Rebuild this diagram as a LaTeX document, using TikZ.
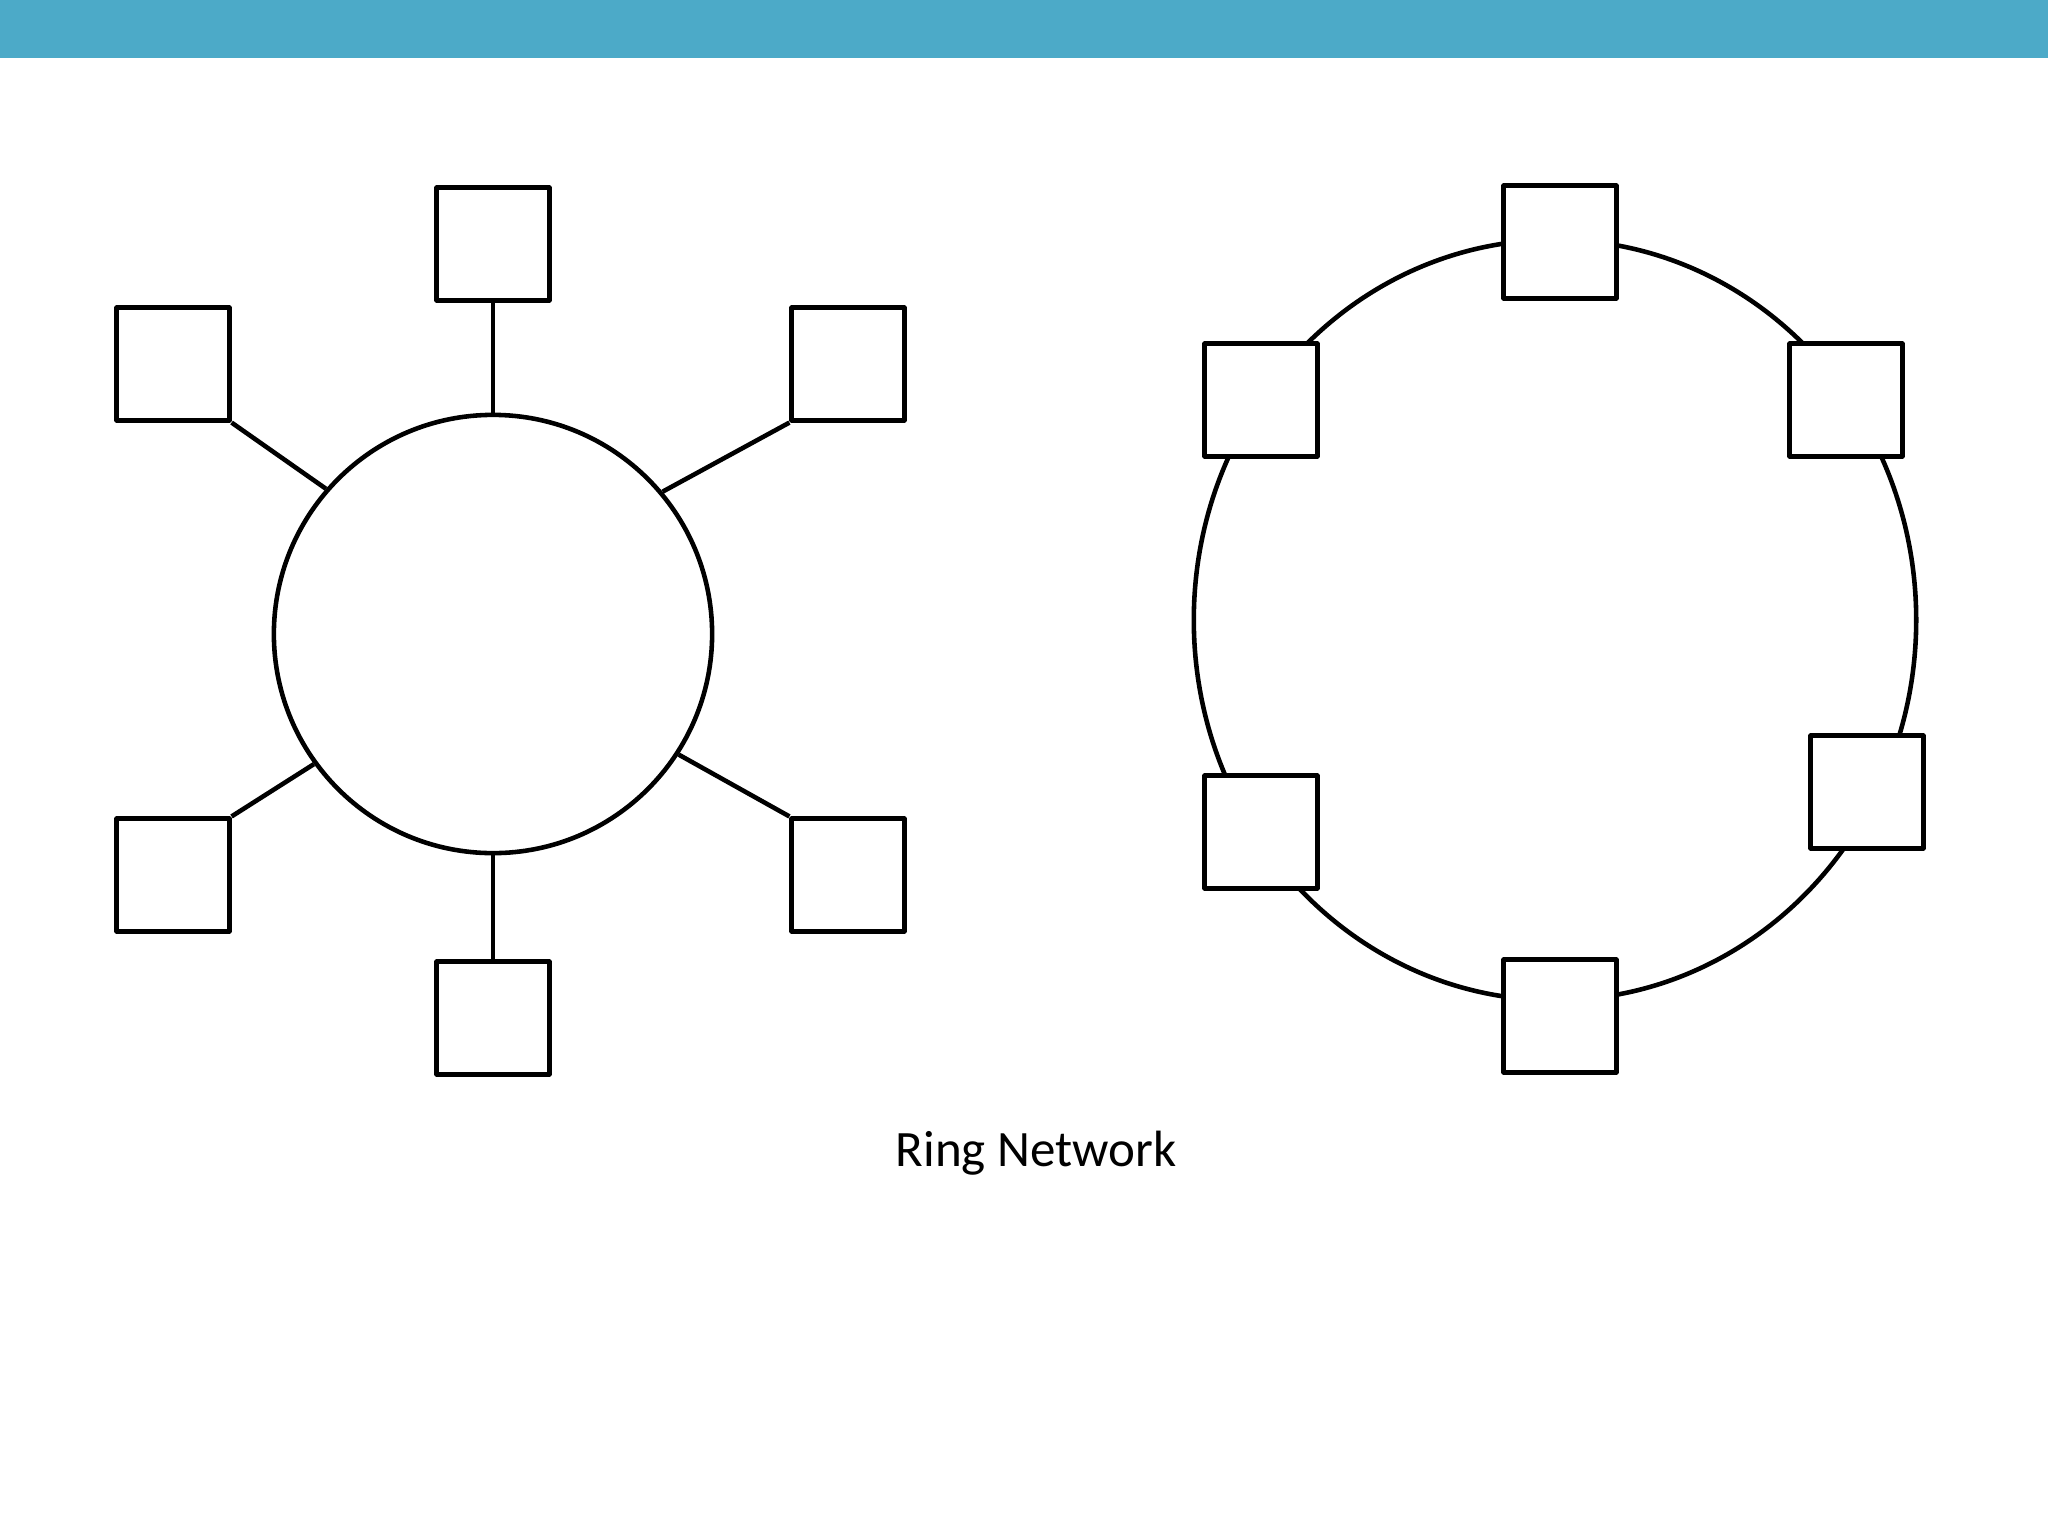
\documentclass[tikz,border=0pt]{standalone}
\usepackage{fontspec}
\setmainfont{Carlito}
\definecolor{barblue}{RGB}{76,170,200}
\tikzset{
  station/.style={draw, fill=white, line width=1.3pt, line join=round, minimum size=1.125cm, inner sep=0pt},
  link/.style={line width=1.3pt},
}

\begin{document}
\begin{tikzpicture}[x=0.01cm, y=-0.01cm]
  \useasboundingbox (0,0) rectangle (2048,1536);
  \fill[barblue] (0,0) rectangle (2048,58);

  \node[draw, circle, line width=1.3pt, minimum size=4.38cm, inner sep=0pt] (hub) at (493,634) {};

  \node[station] (s1) at (493,244) {};
  \node[station] (s2) at (173,364) {};
  \node[station] (s3) at (848,364) {};
  \node[station] (s4) at (173,875) {};
  \node[station] (s5) at (848,875) {};
  \node[station] (s6) at (493,1018) {};

  \draw[link] (s1.south) -- (hub.90);
  \draw[link] (s2.south east) -- (hub.139);
  \draw[link] (s3.south west) -- (hub.40);
  \draw[link] (s4.north east) -- (hub.216);
  \draw[link] (s5.north west) -- (hub.-33);
  \draw[link] (s6.north) -- (hub.270);

  \draw[link] (1555,620) ellipse [x radius=3.61cm, y radius=3.8cm];

  \node[station] (r1) at (1560,242) {};
  \node[station] (r2) at (1261,400) {};
  \node[station] (r3) at (1846,400) {};
  \node[station] (r4) at (1261,832) {};
  \node[station] (r5) at (1867,792) {};
  \node[station] (r6) at (1560,1016) {};

  \node[anchor=base, font=\fontsize{14.5}{17}\selectfont] (title) at (1036,1166) {Ring Network};

\end{tikzpicture}
\end{document}
